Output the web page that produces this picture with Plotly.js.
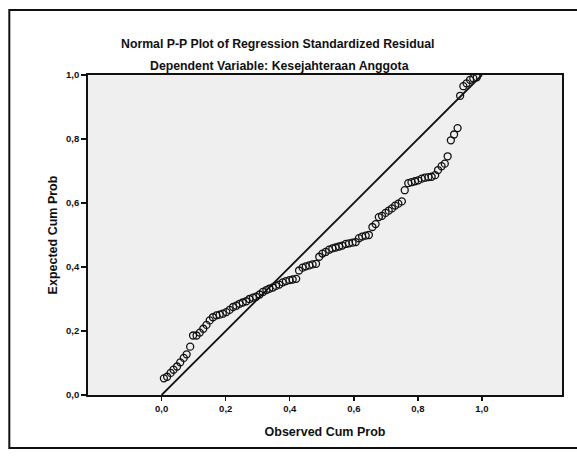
<!DOCTYPE html>
<html>
<head>
<meta charset="utf-8">
<script src="https://cdn.plot.ly/plotly-3.0.1.min.js"></script>
<style>html,body{margin:0;padding:0;background:#fff;}#chart{width:577px;height:462px;}</style>
</head>
<body>
<div id="chart"></div>
<script>
// Observed cumulative probability (x)
const observedCumProb = [
  0.007, 0.017, 0.028, 0.037, 0.048, 0.058, 0.069, 0.078, 0.089, 0.098,
  0.109, 0.119, 0.130, 0.140, 0.150, 0.160, 0.171, 0.181, 0.191, 0.202,
  0.212, 0.223, 0.233, 0.243, 0.253, 0.264, 0.274, 0.285, 0.295, 0.306,
  0.316, 0.327, 0.336, 0.347, 0.357, 0.367, 0.378, 0.388, 0.399, 0.409,
  0.420, 0.429, 0.440, 0.450, 0.461, 0.471, 0.482, 0.492, 0.502, 0.512,
  0.523, 0.533, 0.543, 0.554, 0.564, 0.575, 0.585, 0.596, 0.606, 0.616,
  0.626, 0.637, 0.647, 0.658, 0.668, 0.678, 0.688, 0.699, 0.709, 0.719,
  0.729, 0.739, 0.750, 0.759, 0.770, 0.780, 0.791, 0.801, 0.812, 0.822,
  0.833, 0.843, 0.854, 0.863, 0.874, 0.884, 0.893, 0.903, 0.913, 0.924,
  0.932, 0.942, 0.952, 0.963, 0.973, 0.984
];
// Expected cumulative probability (y)
const expectedCumProb = [
  0.052, 0.057, 0.069, 0.079, 0.089, 0.102, 0.116, 0.127, 0.151, 0.186,
  0.186, 0.195, 0.207, 0.219, 0.233, 0.243, 0.249, 0.251, 0.254, 0.259,
  0.266, 0.275, 0.279, 0.285, 0.289, 0.293, 0.300, 0.304, 0.307, 0.314,
  0.322, 0.328, 0.332, 0.336, 0.341, 0.345, 0.352, 0.356, 0.359, 0.361,
  0.363, 0.389, 0.398, 0.402, 0.405, 0.408, 0.410, 0.432, 0.442, 0.447,
  0.454, 0.458, 0.461, 0.464, 0.467, 0.472, 0.474, 0.476, 0.478, 0.490,
  0.495, 0.498, 0.500, 0.525, 0.534, 0.556, 0.560, 0.569, 0.576, 0.583,
  0.592, 0.598, 0.605, 0.640, 0.662, 0.665, 0.668, 0.671, 0.676, 0.679,
  0.681, 0.682, 0.687, 0.703, 0.715, 0.723, 0.746, 0.796, 0.814, 0.834,
  0.935, 0.965, 0.974, 0.985, 0.990, 0.993
];
// Reference diagonal
const diagonalX = [0, 1];
const diagonalY = [0, 1];

const tickValues = [0, 0.2, 0.4, 0.6, 0.8, 1.0];
const tickLabels = ["0,0", "0,2", "0,4", "0,6", "0,8", "1,0"];

const titleLine1 = "Normal P-P Plot of Regression Standardized Residual";
const titleLine2 = "Dependent Variable: Kesejahteraan Anggota";
const xTitle = "Observed Cum Prob";
const yTitle = "Expected Cum Prob";

const FONT = "'Liberation Sans Narrow', 'Arial Narrow', 'Liberation Sans', Arial, sans-serif";

const traces = [
  {
    x: diagonalX, y: diagonalY, type: "scatter", mode: "lines",
    line: {color: "#111", width: 1.8}, hoverinfo: "skip", showlegend: false
  },
  {
    x: observedCumProb, y: expectedCumProb, type: "scatter", mode: "markers",
    marker: {symbol: "circle-open", size: 7, color: "#111", line: {width: 1.3, color: "#111"}},
    showlegend: false
  }
];

const axisCommon = {
  showgrid: false, zeroline: false, showline: true, mirror: true,
  linecolor: "#111", linewidth: 1.8, ticks: "outside", tickcolor: "#111",
  tickwidth: 1.4, tickmode: "array", tickvals: tickValues, ticktext: tickLabels,
  tickfont: {family: FONT, size: 9.5, color: "#111", weight: "bold"}
};

const layout = {
  width: 577, height: 462,
  margin: {l: 88, r: 15, t: 75, b: 67, pad: 0},
  paper_bgcolor: "#ffffff",
  plot_bgcolor: "#efefef",
  showlegend: false,
  xaxis: Object.assign({}, axisCommon, {
    range: [-0.23, 1.25], ticklen: 4,
    title: {text: xTitle, font: {family: FONT, size: 12.5, color: "#111", weight: "bold"}, standoff: 14}
  }),
  yaxis: Object.assign({}, axisCommon, {
    range: [0, 1], ticklen: 5,
    title: {text: yTitle, font: {family: FONT, size: 12.5, color: "#111", weight: "bold"}, standoff: 6}
  }),
  annotations: [
    {text: titleLine1, xref: "paper", yref: "paper", x: 0.40, y: 1.096, showarrow: false,
     xanchor: "center", yanchor: "middle",
     font: {family: FONT, size: 12.3, color: "#111", weight: "bold"}},
    {text: titleLine2, xref: "paper", yref: "paper", x: 0.405, y: 1.028, showarrow: false,
     xanchor: "center", yanchor: "middle",
     font: {family: FONT, size: 12.3, color: "#111", weight: "bold"}}
  ],
  shapes: [
    {type: "rect", xref: "paper", yref: "paper", x0: -0.166, x1: 1.05, y0: -0.166, y1: 1.203,
     line: {color: "#111", width: 2}, fillcolor: "rgba(0,0,0,0)", layer: "below"}
  ]
};

Plotly.newPlot("chart", traces, layout, {staticPlot: true, displayModeBar: false});
</script>
</body>
</html>
